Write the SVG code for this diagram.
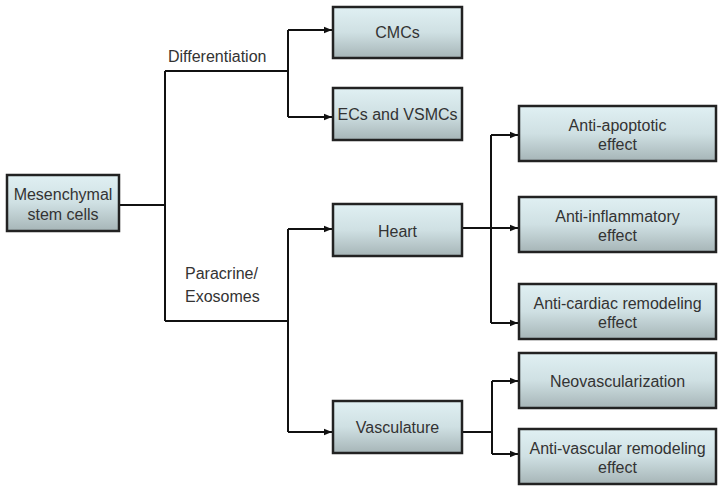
<svg xmlns="http://www.w3.org/2000/svg" width="721" height="493" viewBox="0 0 721 493">
<defs>
<linearGradient id="g" x1="0" y1="0" x2="0" y2="1">
<stop offset="0" stop-color="#e0f0f3"/>
<stop offset="0.5" stop-color="#cfe0e3"/>
<stop offset="1" stop-color="#a6b5b7"/>
</linearGradient>
<marker id="a" viewBox="0 0 10 10" refX="10" refY="5" markerWidth="4" markerHeight="4" markerUnits="strokeWidth" orient="auto">
<path d="M0,1 L10,5 L0,9 Z" fill="#111"/>
</marker>
<style>
.box{fill:url(#g);stroke:#222;stroke-width:2.5}
.t{font-family:"Liberation Sans",Arial,sans-serif;font-size:16px;fill:#333;text-anchor:middle}
.l{font-family:"Liberation Sans",Arial,sans-serif;font-size:16px;fill:#333}
.c{fill:none;stroke:#111;stroke-width:2}
</style>
</defs>
<rect width="721" height="493" fill="#fff"/>
<g id="connectors">
<path class="c" d="M120,205 H165 M165,71 V321"/>
<path class="c" d="M165,71 H288 M288,30 V117"/>
<path class="c" d="M288,30 H332" marker-end="url(#a)"/>
<path class="c" d="M288,117 H332" marker-end="url(#a)"/>
<path class="c" d="M165,321 H288 M288,229 V432"/>
<path class="c" d="M288,229 H332" marker-end="url(#a)"/>
<path class="c" d="M288,432 H332" marker-end="url(#a)"/>
<path class="c" d="M462,228 H491 M491,135 V323"/>
<path class="c" d="M491,135 H518" marker-end="url(#a)"/>
<path class="c" d="M491,228 H518" marker-end="url(#a)"/>
<path class="c" d="M491,323 H518" marker-end="url(#a)"/>
<path class="c" d="M462,432 H492 M492,381 V454"/>
<path class="c" d="M492,381 H518" marker-end="url(#a)"/>
<path class="c" d="M492,454 H518" marker-end="url(#a)"/>
</g>
<g id="labels">
<text class="l" x="168" y="62">Differentiation</text>
<text class="l" x="185" y="279">Paracrine/</text>
<text class="l" x="185" y="302">Exosomes</text>
</g>
<g id="msc"><rect class="box" x="7" y="175" width="112" height="56"/><text class="t" x="63" y="200">Mesenchymal</text><text class="t" x="63" y="220">stem cells</text></g>
<g id="cmcs"><rect class="box" x="333" y="7" width="129" height="51"/><text class="t" x="397.5" y="38">CMCs</text></g>
<g id="ecs"><rect class="box" x="333" y="88" width="129" height="52"/><text class="t" x="397.5" y="120">ECs and VSMCs</text></g>
<g id="heart"><rect class="box" x="333" y="204" width="129" height="52"/><text class="t" x="397.5" y="237">Heart</text></g>
<g id="vasculature"><rect class="box" x="333" y="401" width="129" height="52"/><text class="t" x="397.5" y="433">Vasculature</text></g>
<g id="antiapoptotic"><rect class="box" x="519" y="106" width="197" height="55"/><text class="t" x="617.5" y="131">Anti-apoptotic</text><text class="t" x="617.5" y="150">effect</text></g>
<g id="antiinflammatory"><rect class="box" x="519" y="197" width="197" height="55"/><text class="t" x="617.5" y="222">Anti-inflammatory</text><text class="t" x="617.5" y="241">effect</text></g>
<g id="anticardiac"><rect class="box" x="519" y="284" width="197" height="55"/><text class="t" x="617.5" y="309">Anti-cardiac remodeling</text><text class="t" x="617.5" y="328">effect</text></g>
<g id="neovascularization"><rect class="box" x="519" y="353" width="197" height="55"/><text class="t" x="617.5" y="387">Neovascularization</text></g>
<g id="antivascular"><rect class="box" x="519" y="429" width="197" height="55"/><text class="t" x="617.5" y="454">Anti-vascular remodeling</text><text class="t" x="617.5" y="473">effect</text></g>
</svg>
